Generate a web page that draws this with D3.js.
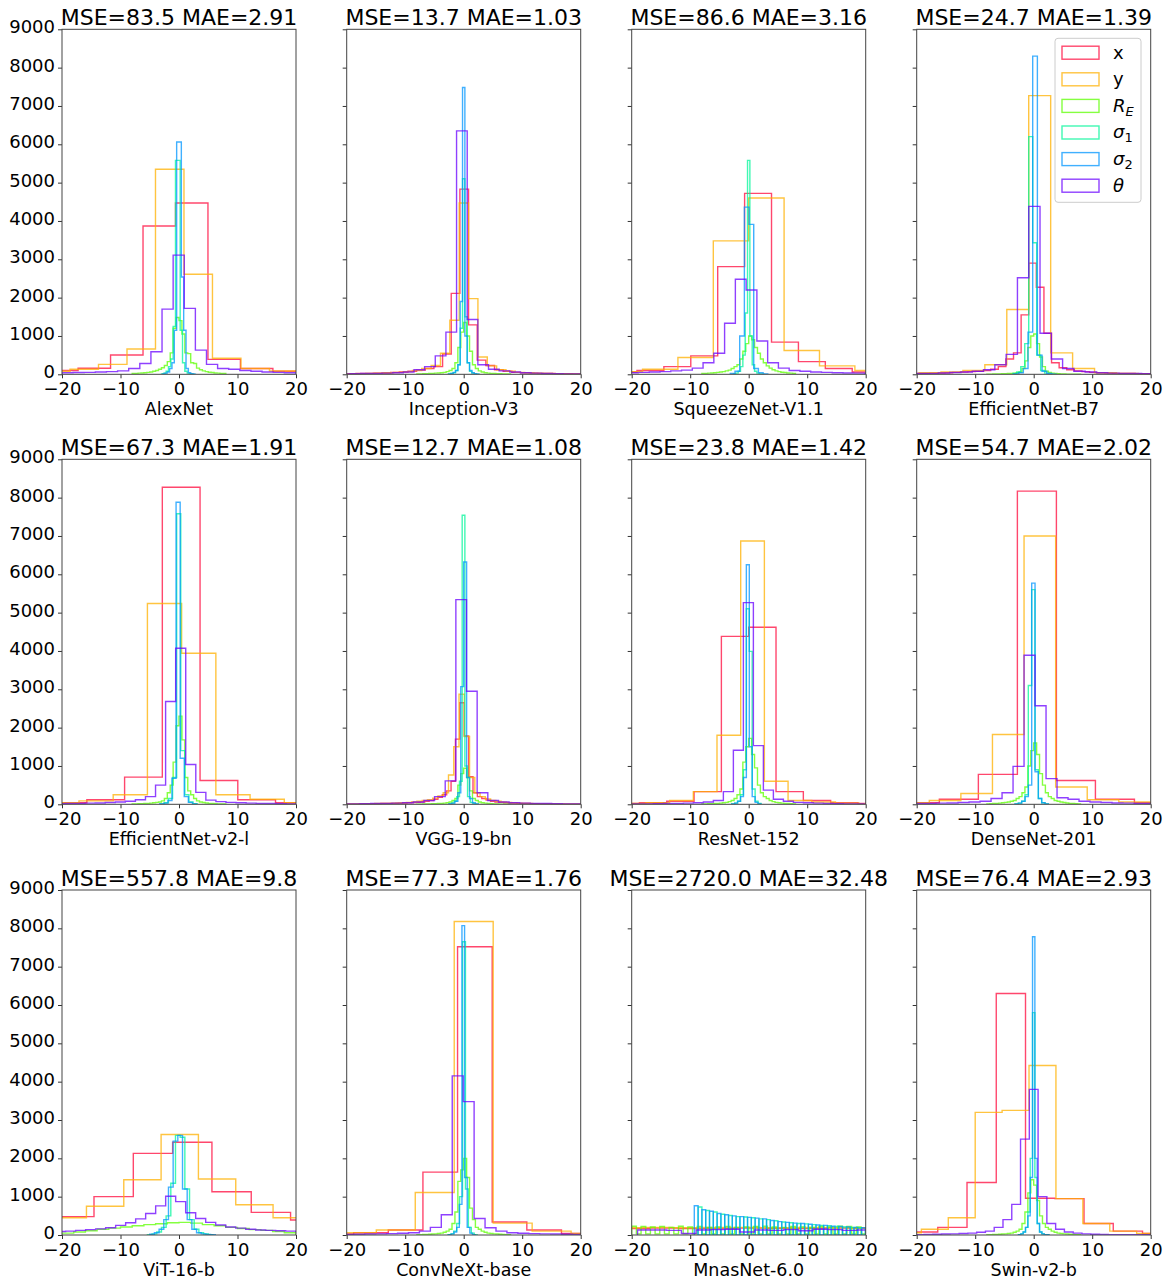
<!DOCTYPE html>
<html>
<head>
<script src="https://d3js.org/d3.v7.min.js"></script>
<style>
  body { margin: 0; background: #fff; }
  text { font-family: "DejaVu Sans", sans-serif; }
</style>
</head>
<body>
<div id="chart"></div>
<script>
// panel names and titles
var names = ["AlexNet", "Inception-V3", "SqueezeNet-V1.1", "EfficientNet-B7",
             "EfficientNet-v2-l", "VGG-19-bn", "ResNet-152", "DenseNet-201",
             "ViT-16-b", "ConvNeXt-base", "MnasNet-6.0", "Swin-v2-b"];
var titles = ["MSE=83.5 MAE=2.91", "MSE=13.7 MAE=1.03", "MSE=86.6 MAE=3.16", "MSE=24.7 MAE=1.39",
              "MSE=67.3 MAE=1.91", "MSE=12.7 MAE=1.08", "MSE=23.8 MAE=1.42", "MSE=54.7 MAE=2.02",
              "MSE=557.8 MAE=9.8", "MSE=77.3 MAE=1.76", "MSE=2720.0 MAE=32.48", "MSE=76.4 MAE=2.93"];
var xTicks = [-20, -10, 0, 10, 20];
var yTicks = [0, 1000, 2000, 3000, 4000, 5000, 6000, 7000, 8000, 9000];
var colors = ["#ff0a3c", "#ffb000", "#5cff00", "#00f59a", "#0096ff", "#6a00ff"];

// each histogram: [first bin edge, bin width, counts]
var histX = [
  [-22.8, 5.55, [100,157,504,3870,4470,390,150,80]],
  [-19.89, 1.48, [15,20,25,30,35,45,60,80,110,150,200,530,2110,4830,1290,370,230,120,80,50,40,30,20,20,15,15,10,10]],
  [-23.7, 4.6, [60,100,200,480,2810,4720,840,330,150,60]],
  [-20.35, 1.3, [20,25,30,35,40,50,60,70,80,100,130,200,400,560,1550,2900,2270,1070,300,170,120,90,70,50,40,30,25,20,20,15,15,10]],
  [-22.2, 6.45, [40,120,710,8270,620,120,40]],
  [-20.16, 0.75, [5,5,5,10,10,10,15,15,20,20,25,25,30,35,40,45,50,60,80,100,130,180,250,350,600,1700,2650,1780,720,300,200,150,110,80,60,50,40,35,30,25,20,20,15,15,10,10,10,5,5,5,5,5,5,5]],
  [-23.35, 4.67, [20,40,80,330,4380,4620,330,100,40,20]],
  [-22.8, 6.67, [40,130,780,8170,620,130,40]],
  [-21.25, 6.72, [480,1000,2130,2420,1130,590,390]],
  [-24.73, 5.92, [30,60,130,1640,7520,340,130,40,20]],
  [-22, 5, [170,180,170,170,180,175,170,180,175]],
  [-21.4, 5, [80,200,1370,6300,960,950,300,100,40]]
];
var histY = [
  [-23.5, 4.87, [80,130,260,660,5350,2610,420,150,85]],
  [-19.97, 1.6, [10,15,20,30,40,50,70,100,150,230,550,1410,4470,1975,450,220,120,80,50,40,30,20,15,10,10]],
  [-24.2, 6.05, [70,130,440,3480,4600,620,220,100]],
  [-19.6, 3.75, [40,60,100,250,1690,7270,560,150,40,20,10]],
  [-22.95, 5.85, [40,90,250,5240,3940,250,130,40]],
  [-20.6, 0.9, [10,10,10,10,15,15,20,20,25,30,35,40,50,60,80,100,120,160,220,300,765,1500,2870,1770,700,300,200,140,100,80,60,50,40,30,25,20,15,15,10,10,10,10,5,5,5,5]],
  [-21.62, 4.05, [20,40,100,330,1800,6870,600,100,60,30,10]],
  [-23.25, 5.4, [40,100,280,1820,7000,450,120,60,30]],
  [-22.2, 6.38, [450,750,1440,2620,1460,790,450]],
  [-21.6, 6.66, [60,130,1110,8180,310,100,40]],
  [-23, 5, [190,200,190,195,200,190,195,200,190]],
  [-23.8, 4.6, [60,150,450,3200,3250,4420,950,300,100,40]]
];
var histRE = [
  [-8, 0.5, [20,25,30,35,40,50,60,80,100,130,170,230,330,560,1200,1480,1400,1050,560,540,300,280,160,120,90,70,55,45,35,30,25,20]],
  [-8, 0.5, [10,10,15,15,20,25,30,35,40,50,70,100,150,300,700,1100,1350,1000,600,250,150,90,60,40,30,25,20,15,15,10,10,10]],
  [-8, 0.5, [20,25,30,35,40,50,60,70,90,110,150,200,250,400,600,800,1000,900,700,550,400,300,220,160,120,90,70,55,45,35,30,25]],
  [-8, 0.5, [5,5,10,10,10,15,15,20,25,30,40,60,150,350,700,1000,1050,800,450,200,80,50,30,20,15,10,10,5,5,5,5,5]],
  [-8, 0.5, [10,10,15,15,20,25,30,40,50,60,90,150,300,500,1100,2050,2300,1680,700,350,250,150,90,60,45,35,25,20,15,10,10,10]],
  [-8, 0.5, [5,5,10,10,10,15,15,20,25,30,40,60,100,150,500,800,940,700,350,150,100,60,40,30,20,15,10,10,5,5,5,5]],
  [-8, 0.5, [10,10,15,15,20,25,30,40,50,70,100,150,250,400,1100,1500,1720,1300,950,500,300,200,150,100,70,50,40,30,25,20,15,10]],
  [-8, 0.5, [10,15,20,25,30,40,50,60,80,100,150,200,300,450,1000,1400,1600,1300,800,500,300,200,150,100,80,60,45,35,25,20,15,10]],
  [-20, 2, [50,80,110,150,180,210,240,270,295,320,330,310,270,240,200,170,140,120,90,60]],
  [-8, 0.5, [10,10,15,15,20,25,30,40,50,70,100,150,300,600,1400,1700,2000,1500,700,400,200,150,100,70,50,40,30,25,20,15,10,10]],
  [-20, 0.8, [230,30,220,30,210,30,220,30,200,30,230,30,210,30,220,30,200,30,210,30,220,30,200,30,210,30,220,30,230,30,210,30,200,30,220,30,210,30,200,30,220,30,210,30,230,30,220,30,210,30]],
  [-8, 0.5, [10,10,15,15,20,25,30,40,50,70,100,150,300,600,1100,1440,1300,900,500,300,200,150,100,70,50,40,30,25,20,15,10,10]]
];
var histS1 = [
  [-3.0, 0.4, [10,30,80,200,400,1250,5580,5580,1150,300,80,30,10,5]],
  [-2.6, 0.4, [10,20,40,100,250,1200,5100,1500,300,80,30,10,5]],
  [-2.6, 0.4, [10,30,80,200,500,1600,5580,1000,250,80,30,10,5]],
  [-3.57, 0.68, [20,60,200,800,6200,3430,500,100,30,10]],
  [-3.2, 0.7, [10,40,150,700,7580,1400,250,60,15]],
  [-2.56, 0.46, [10,30,80,200,600,7540,1000,200,50,15,5]],
  [-2.9, 0.5, [10,30,80,250,900,5100,3990,400,80,20]],
  [-3.2, 0.57, [10,30,80,250,3100,5600,900,150,40,10]],
  [-5.4, 0.8, [10,30,80,200,500,1350,2600,2550,1200,400,150,60,25,10]],
  [-2.7, 0.5, [10,30,100,300,1000,7650,1200,200,50,10]],
  [-8.65, 0.65, [730,0,640,0,600,0,540,0,510,0,480,0,470,0,450,0,420,0,400,0,370,0,340,0,320,0,300,0,290,0,270,0,250,0,240,0,220,0,210,0,200,0,190,0,180]],
  [-2.6, 0.4, [10,30,80,200,600,2000,5800,1500,300,80,30,10,5]]
];
var histS2 = [
  [-2.8, 0.4, [10,30,60,150,300,1150,6060,6060,2540,1150,150,40,15,5]],
  [-2.6, 0.4, [10,20,50,100,250,1900,7480,1000,300,100,40,15,5]],
  [-3.14, 0.8, [20,80,1000,4360,3910,150,40,10]],
  [-3.37, 0.8, [10,40,150,1100,8300,500,80,20,5]],
  [-3.3, 0.7, [10,30,100,680,7880,1200,200,50,10]],
  [-2.5, 0.5, [10,30,80,300,3070,6320,700,150,40,10]],
  [-2.9, 0.5, [10,30,80,200,700,6250,1500,200,50,10]],
  [-3.19, 0.57, [10,30,80,200,500,5770,850,150,40,10]],
  [-5.0, 0.8, [20,60,150,400,1250,2450,2600,1200,400,150,60,30,15,10]],
  [-2.55, 0.45, [10,30,80,200,800,8070,1500,200,50,10]],
  [-9.3, 0.65, [765,0,660,0,620,0,560,0,530,0,500,0,480,0,460,0,440,0,420,0,380,0,350,0,330,0,310,0,300,0,280,0,260,0,250,0,230,0,220,0,210,0,200,0,190]],
  [-2.6, 0.4, [10,30,80,200,500,1500,7780,2000,300,80,30,10,5]]
];
var histTheta = [
  [-20, 1.9, [40,45,50,60,70,90,150,280,590,1700,3110,1720,630,260,150,130,100,80,60,50,40,35]],
  [-21.24, 1.82, [10,15,20,25,30,40,60,120,200,480,1100,6350,1430,250,130,90,60,40,30,20,15,10,10]],
  [-20.68, 1.84, [40,50,60,70,90,110,160,300,550,1330,2480,2200,870,300,160,100,80,60,50,40,35,30,25]],
  [-20.15, 1.93, [20,25,35,45,60,80,120,250,520,2520,4380,1070,400,150,80,60,40,30,25,20,15]],
  [-21.21, 1.72, [15,20,25,30,35,45,60,80,120,200,500,2680,4070,1040,310,110,70,50,40,30,25,20,15,10,10]],
  [-21.36, 1.82, [10,10,15,20,25,30,40,60,100,200,610,5340,2950,300,100,60,40,30,25,20,15,10,10]],
  [-21.43, 1.71, [5,10,10,15,20,25,30,40,60,100,330,1410,5260,1530,370,130,80,50,40,30,20,15,10,10,5]],
  [-20.45, 1.88, [20,25,30,35,45,60,80,150,300,990,3890,2570,670,170,130,80,60,45,35,30,25,20]],
  [-21.09, 1.71, [90,100,120,140,160,190,250,320,420,560,760,1010,870,580,430,330,260,210,180,150,130,120,110,100,90]],
  [-20.66, 1.87, [15,20,25,30,35,45,60,100,200,530,4150,3480,430,190,100,60,45,35,30,25,20,15]],
  [-19, 2.5, [130,130,120,40,130,140,150,80,130,120,140,110,150,140,120,130]],
  [-20.25, 1.5, [10,15,20,25,30,40,50,70,100,200,400,800,2500,3800,1000,300,150,80,50,30,20,15,10,10,10,10,10,10]]
];
var allHists = [histX, histY, histRE, histS1, histS2, histTheta];

var W = 1172, H = 1284;
var colLeft = [62, 346.7, 631.7, 916.7];
var rowTop = [29.3, 459.3, 890];
var aw = 234, ah = 345;

var svg = d3.select("#chart").append("svg")
    .attr("width", W)
    .attr("height", H);

var x = d3.scaleLinear().domain([-20, 20]).range([0, aw]);
var y = d3.scaleLinear().domain([0, 9000]).range([ah, 0]);
var line = d3.line()
    .x(function(d) { return x(d[0]); })
    .y(function(d) { return y(d[1]); });

function stepPoints(h) {
  var x0 = h[0], w = h[1], c = h[2];
  var pts = [[x0, 0]];
  c.forEach(function(v, i) {
    pts.push([x0 + i * w, v]);
    pts.push([x0 + (i + 1) * w, v]);
  });
  pts.push([x0 + c.length * w, 0]);
  return pts;
}

names.forEach(function(name, i) {
  var col = i % 4, row = Math.floor(i / 4);
  var g = svg.append("g")
      .attr("transform", "translate(" + colLeft[col] + "," + rowTop[row] + ")");

  svg.append("clipPath").attr("id", "clip-" + i)
    .append("rect").attr("width", aw).attr("height", ah);

  var plot = g.append("g").attr("clip-path", "url(#clip-" + i + ")");
  allHists.forEach(function(series, s) {
    plot.append("path")
      .attr("d", line(stepPoints(series[i])))
      .attr("fill", "none")
      .attr("stroke", colors[s])
      .attr("stroke-opacity", 0.75)
      .attr("stroke-width", 1.4);
  });

  // axes
  var xa = g.append("g").attr("transform", "translate(0," + ah + ")")
    .call(d3.axisBottom(x).tickValues(xTicks).tickSize(4).tickPadding(4));
  var ya = g.append("g")
    .call(d3.axisLeft(y).tickValues(yTicks).tickSize(4).tickPadding(3)
      .tickFormat(col === 0 ? d3.format("d") : ""));
  [xa, ya].forEach(function(a) {
    a.select(".domain").remove();
    a.selectAll("line").attr("stroke", "#333");
    a.selectAll("text").attr("font-size", "18px").attr("fill", "#000")
      .style("font-family", "'DejaVu Sans', sans-serif");
  });
  if (col === 0) ya.selectAll("text").attr("dy", "0.2em");

  g.append("rect")
    .attr("width", aw).attr("height", ah)
    .attr("fill", "none").attr("stroke", "#444").attr("stroke-width", 1);

  g.append("text")
    .attr("x", aw / 2).attr("y", -4)
    .attr("text-anchor", "middle")
    .attr("font-size", "22px")
    .text(titles[i]);

  g.append("text")
    .attr("x", aw / 2).attr("y", ah + 41)
    .attr("text-anchor", "middle")
    .attr("font-size", "17.5px")
    .text(name);

  // legend in the top right panel
  if (i === 3) {
    var lg = g.append("g").attr("transform", "translate(138.3,9)");
    lg.append("rect")
      .attr("width", 86).attr("height", 164).attr("rx", 3)
      .attr("fill", "#fff").attr("fill-opacity", 0.8)
      .attr("stroke", "#ccc");
    var labels = [
      [["x", false, false]],
      [["y", false, false]],
      [["R", true, false], ["E", true, true]],
      [["σ", true, false], ["1", false, true]],
      [["σ", true, false], ["2", false, true]],
      [["θ", true, false]]
    ];
    labels.forEach(function(parts, k) {
      var cy = 14.4 + 26.6 * k;
      lg.append("rect")
        .attr("x", 7).attr("y", cy - 6.5)
        .attr("width", 37).attr("height", 13)
        .attr("fill", "none")
        .attr("stroke", colors[k]).attr("stroke-opacity", 0.75)
        .attr("stroke-width", 1.4);
      var t = lg.append("text")
        .attr("x", 58).attr("y", cy + 6)
        .attr("font-size", "18px");
      parts.forEach(function(p) {
        var ts = t.append("tspan").text(p[0])
          .attr("font-style", p[1] ? "italic" : "normal");
        if (p[2]) ts.attr("font-size", "13px").attr("dy", 4);
      });
    });
  }
});
</script>
</body>
</html>
